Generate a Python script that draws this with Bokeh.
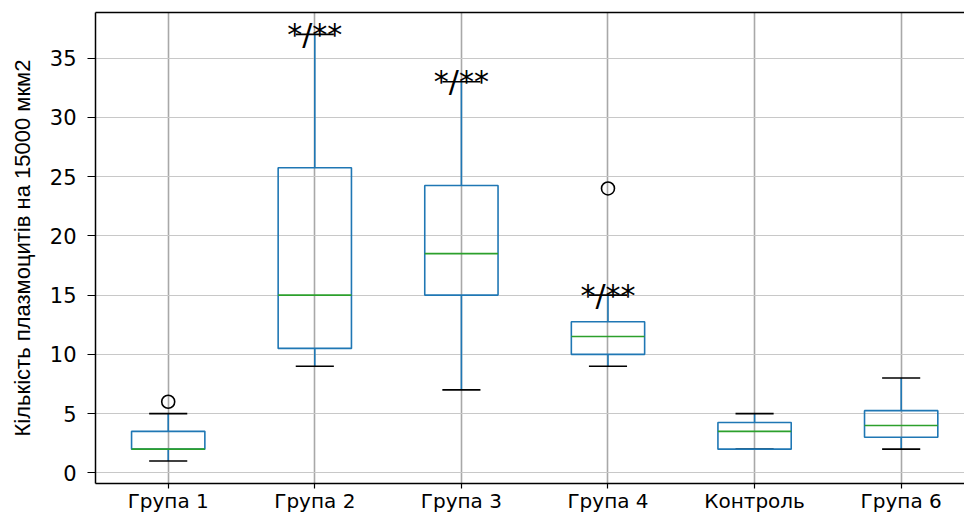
from bokeh.plotting import figure
from bokeh.models import ColumnDataSource, FixedTicker, LinearAxis, Range1d
from bokeh.transform import dodge
from bokeh.core.properties import value
from bokeh.embed import file_html
from bokeh.resources import INLINE

groups = ["Група 1", "Група 2", "Група 3", "Група 4", "Контроль", "Група 6"]
whisker_low = [1, 9, 7, 9, 2, 2]
q1 = [2, 10.5, 15, 10, 2, 3]
median = [2, 15, 18.5, 11.5, 3.5, 4]
q3 = [3.5, 25.75, 24.25, 12.75, 4.25, 5.25]
whisker_high = [5, 37, 33, 15, 5, 8]
outlier_groups = ["Група 1", "Група 4"]
outlier_values = [6, 24]
annot_groups = ["Група 2", "Група 3", "Група 4"]
annot_text = ["*/**", "*/**", "*/**"]
y_ticks = [0, 5, 10, 15, 20, 25, 30, 35]
y_label = "Кількість плазмоцитів на 15000 мкм2"

pos = list(range(1, len(groups) + 1))
gpos = dict(zip(groups, pos))

src = ColumnDataSource(dict(x=pos, lo=whisker_low, q1=q1, med=median, q3=q3, hi=whisker_high))
out_src = ColumnDataSource(dict(x=[gpos[g] for g in outlier_groups], y=outlier_values))
ann_src = ColumnDataSource(dict(
    x=[gpos[g] for g in annot_groups],
    y=[whisker_high[groups.index(g)] for g in annot_groups],
    t=annot_text,
))

p = figure(width=964, height=515, output_backend="svg", toolbar_location=None,
           x_range=Range1d(0.504, 6.432), y_range=Range1d(-0.9, 38.85),
           min_border_left=95, min_border_top=12, min_border_right=0, min_border_bottom=0)
p.outline_line_color = None
p.background_fill_color = "white"
p.border_fill_color = "white"

# axes
p.xaxis.ticker = FixedTicker(ticks=pos)
p.xaxis.major_label_overrides = {i: g for i, g in zip(pos, groups)}
p.yaxis.ticker = FixedTicker(ticks=y_ticks)
for ax in (p.xaxis[0], p.yaxis[0]):
    ax.axis_line_color = "black"
    ax.axis_line_width = 1.5
    ax.major_tick_line_color = "black"
    ax.major_tick_line_width = 1.2
    ax.minor_tick_line_color = None
    ax.major_tick_in = 0
    ax.major_label_text_font = "DejaVu Sans"
    ax.major_label_text_color = "black"
p.xaxis.major_label_text_font_size = "20px"
p.yaxis.major_label_text_font_size = "21px"
p.xaxis.major_tick_out = 5
p.xaxis.major_label_standoff = 0
p.yaxis.major_tick_out = 8
p.yaxis.major_label_standoff = 11
p.yaxis.axis_label = y_label
p.yaxis.axis_label_text_font = "Liberation Sans"
p.yaxis.axis_label_text_font_style = "normal"
p.yaxis.axis_label_text_font_size = "22px"
p.yaxis.axis_label_text_color = "black"
p.yaxis.axis_label_standoff = 12

top_axis = LinearAxis(ticker=FixedTicker(ticks=[]), axis_line_color="black", axis_line_width=1.5,
                      major_tick_line_color=None, minor_tick_line_color=None,
                      major_label_text_font_size="0px")
p.add_layout(top_axis, "above")

# grid
p.xgrid.ticker = FixedTicker(ticks=pos)
p.xgrid.grid_line_color = "#a8a8a8"
p.xgrid.grid_line_width = 1.6
p.ygrid.ticker = FixedTicker(ticks=y_ticks)
p.ygrid.grid_line_color = "#c8c8c8"
p.ygrid.grid_line_width = 1.2

blue = "#1f77b4"
# whiskers
p.segment(x0="x", x1="x", y0="q3", y1="hi", source=src, line_color=blue, line_width=1.6)
p.segment(x0="x", x1="x", y0="q1", y1="lo", source=src, line_color=blue, line_width=1.6)
# caps
p.segment(x0=dodge("x", -0.13), x1=dodge("x", 0.13), y0="hi", y1="hi", source=src, line_color="black", line_width=1.6)
p.segment(x0=dodge("x", -0.13), x1=dodge("x", 0.13), y0="lo", y1="lo", source=src, line_color="black", line_width=1.6)
# boxes
p.vbar(x="x", width=0.5, bottom="q1", top="q3", source=src, fill_alpha=0, line_color=blue, line_width=1.6)
# medians
p.segment(x0=dodge("x", -0.25), x1=dodge("x", 0.25), y0="med", y1="med", source=src, line_color="#2ca02c", line_width=1.6)
# outliers
p.scatter(x="x", y="y", source=out_src, marker="circle", size=13, fill_alpha=0, line_color="black", line_width=1.6)
# annotations
p.text(x="x", y="y", text="t", source=ann_src, text_align="center", text_baseline="alphabetic",
       text_font=value("DejaVu Sans"), text_font_size="30px", text_color="black")

open("out.html", "w").write(file_html(p, INLINE))
